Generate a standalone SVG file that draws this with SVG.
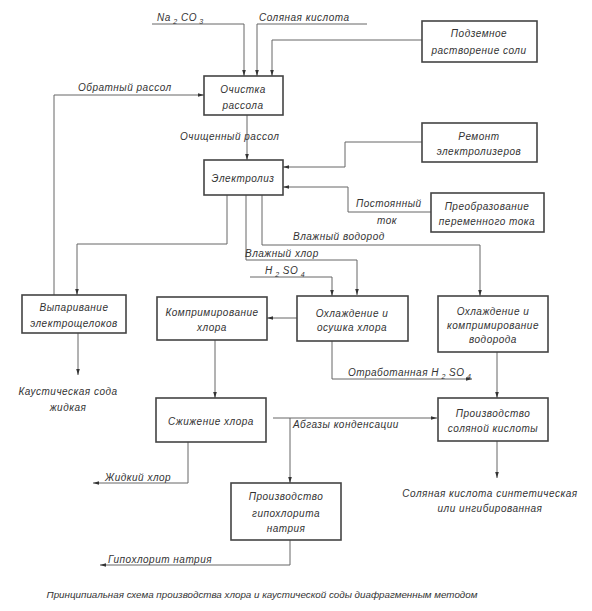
<svg xmlns="http://www.w3.org/2000/svg" width="592" height="611" viewBox="0 0 592 611">
<defs>
<style>
text{font-family:"Liberation Sans","DejaVu Sans",sans-serif;font-style:italic;font-size:10px;fill:#333;letter-spacing:0.5px}
.c{text-anchor:middle}
.cap{letter-spacing:0;font-size:9.8px}
.box{fill:#fff;stroke:#444;stroke-width:1.6}
.ln{fill:none;stroke:#666;stroke-width:1}
.ar{marker-end:url(#a)}
</style>
<marker id="a" viewBox="0 0 10 10" refX="10" refY="5" markerWidth="6" markerHeight="6" orient="auto" markerUnits="userSpaceOnUse"><path d="M0,2 L10,5 L0,8 Z" fill="#333"/></marker>
</defs>
<rect width="592" height="611" fill="#fff"/>
<g id="connectors">
<path class="ln ar" d="M152,24 H244 V76"/>
<path class="ln ar" d="M367,24 H257 V76"/>
<path class="ln ar" d="M422,40 H272 V76"/>
<path class="ln ar" d="M54,295 V95 H204"/>
<path class="ln ar" d="M247,115 V160"/>
<path class="ln ar" d="M422,142 H345 V167 H283"/>
<path class="ln ar" d="M431,212 H348 V187 H283"/>
<path class="ln ar" d="M227,195 V244 H77 V295"/>
<path class="ln ar" d="M246,195 V260 H357 V295"/>
<path class="ln ar" d="M262,195 V245 H480 V296"/>
<path class="ln ar" d="M250,277 H332 V296"/>
<path class="ln ar" d="M297,318 H267"/>
<path class="ln ar" d="M332,341 V379 H472"/>
<path class="ln ar" d="M215,340 V398"/>
<path class="ln ar" d="M497,352 V398"/>
<path class="ln ar" d="M78,333 V375"/>
<path class="ln ar" d="M273,418 H437"/>
<path class="ln ar" d="M290,418 V483"/>
<path class="ln ar" d="M188,442 V483 H93"/>
<path class="ln ar" d="M290,540 V565 H100"/>
<path class="ln ar" d="M497,441 V478"/>
</g>
<g id="labels">
<text x="157" y="21">Na<tspan font-size="7" dy="3"> 2</tspan><tspan dy="-3"> CO</tspan><tspan font-size="7" dy="3"> 3</tspan></text>
<text x="259" y="21">Соляная кислота</text>
<text x="78" y="91">Обратный рассол</text>
<text x="180" y="140">Очищенный  рассол</text>
<text x="356" y="207">Постоянный</text>
<text x="387" y="224" class="c">ток</text>
<text x="293" y="240">Влажный водород</text>
<text x="245" y="257">Влажный хлор</text>
<text x="265" y="274">H<tspan font-size="7" dy="3"> 2</tspan><tspan dy="-3"> SO</tspan><tspan font-size="7" dy="3"> 4</tspan></text>
<text x="348" y="376">Отработанная H<tspan font-size="7" dy="3"> 2</tspan><tspan dy="-3"> SO</tspan><tspan font-size="7" dy="3"> 4</tspan></text>
<text x="68" y="395" class="c">Каустическая сода</text>
<text x="68" y="411" class="c">жидкая</text>
<text x="293" y="428">Абгазы конденсации</text>
<text x="105" y="481">Жидкий хлор</text>
<text x="490" y="497" class="c">Соляная кислота синтетическая</text>
<text x="490" y="512" class="c">или ингибированная</text>
<text x="108" y="563">Гипохлорит натрия</text>
<text x="262" y="598" class="c cap">Принципиальная схема производства хлора и каустической соды диафрагменным методом</text>
</g>
<g id="n-ochistka"><rect class="box" x="204" y="76" width="79" height="39"/><text class="c" x="243" y="93">Очистка</text><text class="c" x="243" y="109">рассола</text></g>
<g id="n-podzemnoe"><rect class="box" x="422" y="21" width="115" height="41"/><text class="c" x="479" y="37">Подземное</text><text class="c" x="479" y="54">растворение соли</text></g>
<g id="n-remont"><rect class="box" x="422" y="123" width="115" height="39"/><text class="c" x="479" y="140">Ремонт</text><text class="c" x="479" y="155">электролизеров</text></g>
<g id="n-elektroliz"><rect class="box" x="204" y="160" width="79" height="35"/><text class="c" x="243" y="182">Электролиз</text></g>
<g id="n-preobr"><rect class="box" x="431" y="193" width="113" height="39"/><text class="c" x="487" y="210">Преобразование</text><text class="c" x="487" y="225">переменного тока</text></g>
<g id="n-vyparivanie"><rect class="box" x="22" y="295" width="104" height="38"/><text class="c" x="74" y="311">Выпаривание</text><text class="c" x="74" y="327">электрощелоков</text></g>
<g id="n-kompr-hlora"><rect class="box" x="157" y="297" width="110" height="43"/><text class="c" x="212" y="316">Компримирование</text><text class="c" x="212" y="331">хлора</text></g>
<g id="n-ohl-osushka"><rect class="box" x="297" y="296" width="111" height="45"/><text class="c" x="352" y="317">Охлаждение и</text><text class="c" x="352" y="331">осушка хлора</text></g>
<g id="n-ohl-vodoroda"><rect class="box" x="438" y="296" width="110" height="56"/><text class="c" x="493" y="315">Охлаждение и</text><text class="c" x="493" y="329">компримирование</text><text class="c" x="493" y="343">водорода</text></g>
<g id="n-szhizhenie"><rect class="box" x="156" y="398" width="110" height="44"/><text class="c" x="211" y="425">Сжижение хлора</text></g>
<g id="n-sol-kisl"><rect class="box" x="438" y="398" width="110" height="43"/><text class="c" x="493" y="417">Производство</text><text class="c" x="493" y="432">соляной кислоты</text></g>
<g id="n-gipohlorit"><rect class="box" x="231" y="483" width="110" height="57"/><text class="c" x="286" y="500">Производство</text><text class="c" x="286" y="517">гипохлорита</text><text class="c" x="286" y="532">натрия</text></g>
</svg>
